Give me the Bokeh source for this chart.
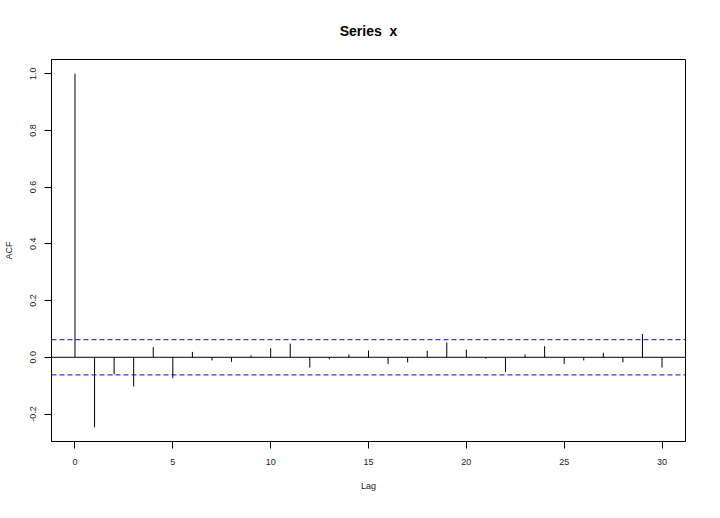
import numpy as np
from bokeh.plotting import figure
from bokeh.models import Range1d, FixedTicker, ColumnDataSource
from bokeh.embed import file_html
from bokeh.resources import INLINE

# ---- data ----
lags = list(range(0, 31))
acf_values = [1.0, -0.247, -0.060, -0.103, 0.036, -0.074, 0.019, -0.011, -0.016, 0.007,
              0.032, 0.048, -0.036, -0.007, 0.010, 0.024, -0.024, -0.018, 0.023, 0.052,
              0.027, -0.005, -0.052, 0.010, 0.039, -0.024, -0.011, 0.016, -0.018, 0.082,
              -0.036]
ci_level = 0.062
x_ticks = [0, 5, 10, 15, 20, 25, 30]
y_ticks = [-0.2, 0.0, 0.2, 0.4, 0.6, 0.8, 1.0]
y_tick_labels = ["-0.2", "0.0", "0.2", "0.4", "0.6", "0.8", "1.0"]
title_text = "Series \u00a0x"

# R-style 4% range expansion
xmin, xmax = min(lags), max(lags)
ymin = min(min(acf_values), -ci_level)
ymax = max(max(acf_values), ci_level)
xp = (xmax - xmin) * 0.04
yp = (ymax - ymin) * 0.04
x_lo, x_hi = xmin - xp, xmax + xp

FONT = "Liberation Sans"

p = figure(width=704, height=502, output_backend="svg", toolbar_location=None,
           x_range=Range1d(x_lo, x_hi), y_range=Range1d(ymin - yp, ymax + yp),
           min_border_left=51, min_border_right=19, min_border_top=57, min_border_bottom=61,
           background_fill_color="white", border_fill_color="white")

p.title.text = title_text
p.title.align = "center"
p.title.text_font = FONT
p.title.text_font_style = "bold"
p.title.text_font_size = "14px"
p.title.text_color = "black"
p.title.standoff = 41

p.xgrid.visible = False
p.ygrid.visible = False
p.outline_line_color = "black"
p.outline_line_width = 1

# confidence bounds (each its own renderer)
p.line(x=[x_lo, x_hi], y=[ci_level, ci_level], line_color="blue", line_width=1, line_dash="5 3")
p.line(x=[x_lo, x_hi], y=[-ci_level, -ci_level], line_color="blue", line_width=1, line_dash="5 3")
# zero line
p.line(x=[x_lo, x_hi], y=[0.0, 0.0], line_color="black", line_width=1)

src = ColumnDataSource(dict(lag=lags, acf=acf_values, zero=[0.0] * len(lags)))
p.segment(x0="lag", y0="zero", x1="lag", y1="acf", source=src, line_color="black", line_width=1)

# x axis
xa = p.xaxis[0]
xa.ticker = FixedTicker(ticks=x_ticks)
xa.axis_label = "Lag"
xa.minor_tick_line_color = None
xa.major_tick_in = 0
xa.major_tick_out = 7
xa.major_label_standoff = 10
xa.axis_label_standoff = 13
xa.major_label_text_font = FONT
xa.major_label_text_font_size = "9px"
xa.axis_label_text_font = FONT
xa.axis_label_text_font_size = "9px"
xa.axis_label_text_font_style = "normal"
xa.axis_line_color = "black"
xa.major_tick_line_color = "black"
xa.major_label_text_color = "#222222"
xa.axis_label_text_color = "#222222"

# y axis
ya = p.yaxis[0]
ya.ticker = FixedTicker(ticks=y_ticks)
ya.major_label_overrides = {t: s for t, s in zip(y_ticks, y_tick_labels)}
ya.axis_label = "ACF"
ya.minor_tick_line_color = None
ya.major_tick_in = 0
ya.major_tick_out = 7
ya.major_label_orientation = "vertical"
ya.major_label_standoff = 8
ya.axis_label_standoff = 14
ya.major_label_text_font = FONT
ya.major_label_text_font_size = "9px"
ya.axis_label_text_font = FONT
ya.axis_label_text_font_size = "9px"
ya.axis_label_text_font_style = "normal"
ya.axis_line_color = "black"
ya.major_tick_line_color = "black"
ya.major_label_text_color = "#222222"
ya.axis_label_text_color = "#222222"

open("out.html", "w").write(file_html(p, INLINE))
